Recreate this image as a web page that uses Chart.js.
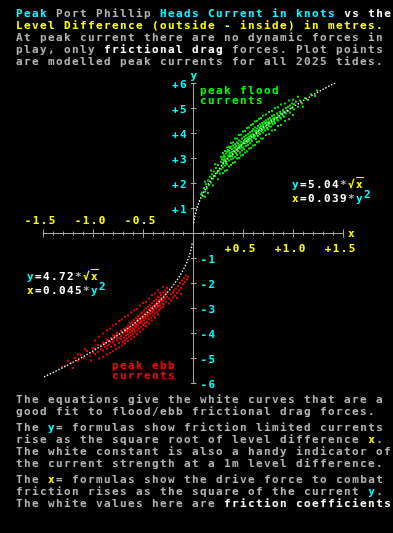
<!DOCTYPE html>
<html>
<head>
<meta charset="utf-8">
<script src="https://cdn.jsdelivr.net/npm/chart.js@4"></script>
<style>
  html, body { margin: 0; padding: 0; background: #000; }
  #wrap { position: relative; width: 393px; height: 533px; overflow: hidden; }
  canvas { position: absolute; left: 0; top: 0; }
  .t {
    position: absolute;
    font: bold 11px "DejaVu Sans Mono", monospace;
    letter-spacing: 1.38px;
    line-height: 12px;
    white-space: pre;
    color: #b4b4b4;
  }
  .p { margin: 0 0 4px 0; }
  .c { color: #00ffff; }
  .y { color: #ffff00; }
  .w { color: #ffffff; }
  .g { color: #00ff00; }
  .r { color: #ff0000; }
  .s { color: #b4b4b4; }
  .ov { text-decoration: overline; }
  .sup { position: relative; top: -4px; }
</style>
</head>
<body>
<div id="wrap">
  <canvas id="chart" width="393" height="533"></canvas>

  <div class="t" style="left:16px;top:8px"><span class="c">Peak</span> Port Phillip <span class="c">Heads Current in knots</span> <span class="w">vs the</span>
<span class="y">Level Difference (outside - inside) in metres.</span>
At peak current there are no dynamic forces in
play, only <span class="w">frictional drag</span> forces. Plot points
are modelled peak currents for all 2025 tides.</div>

  <div class="t g" style="left:200px;top:85px">peak flood</div>
  <div class="t g" style="left:200px;top:95px">currents</div>
  <div class="t r" style="left:112px;top:360px">peak ebb</div>
  <div class="t r" style="left:112px;top:370px">currents</div>

  <div class="t w" style="left:292px;top:179px"><span class="c">y</span>=5.04<span class="s">*</span><span class="y">√<span class="ov">x</span></span></div>
  <div class="t w" style="left:292px;top:193px"><span class="y">x</span>=0.039<span class="s">*</span><span class="c">y<span class="sup">2</span></span></div>
  <div class="t w" style="left:27px;top:271px"><span class="c">y</span>=4.72<span class="s">*</span><span class="y">√<span class="ov">x</span></span></div>
  <div class="t w" style="left:27px;top:285px"><span class="y">x</span>=0.045<span class="s">*</span><span class="c">y<span class="sup">2</span></span></div>

  <div class="t" style="left:16px;top:394px"><div class="p">The equations give the white curves that are a
good fit to flood/ebb frictional drag forces.</div><div class="p">The <span class="c">y</span>= formulas show friction limited currents
rise as the square root of level difference <span class="y">x</span>.
The white constant is also a handy indicator of
the current strength at a 1m level difference.</div><div class="p">The <span class="y">x</span>= formulas show the drive force to combat
friction rises as the square of the current <span class="c">y</span>.
The white values here are <span class="w">friction coefficients</span></div></div>
</div>

<script>
// axis ticks
const xTicks = [-1.5, -1.0, -0.5, 0.5, 1.0, 1.5];
const xMinor = [-1.4, -1.3, -1.2, -1.1, -0.9, -0.8, -0.7, -0.6, -0.4, -0.3, -0.2, -0.1,
                0.1, 0.2, 0.3, 0.4, 0.6, 0.7, 0.8, 0.9, 1.1, 1.2, 1.3, 1.4];
const xTickLabels = ['-1.5', '-1.0', '-0.5', '+0.5', '+1.0', '+1.5'];
const yTicks = [6, 5, 4, 3, 2, 1, -1, -2, -3, -4, -5, -6];
const yTickLabels = ['+6', '+5', '+4', '+3', '+2', '+1', '-1', '-2', '-3', '-4', '-5', '-6'];

// fitted curves (white)
const floodCurveX = [0.006, 0.01, 0.02, 0.04, 0.07, 0.1, 0.15, 0.2, 0.3, 0.4, 0.5, 0.6, 0.7, 0.8, 0.9, 1.0, 1.1, 1.2, 1.3, 1.42];
const floodCurveY = [0.39, 0.50, 0.71, 1.01, 1.33, 1.59, 1.95, 2.25, 2.76, 3.19, 3.56, 3.90, 4.22, 4.51, 4.78, 5.04, 5.29, 5.52, 5.75, 6.0];
const ebbCurveX = [-0.008, -0.02, -0.04, -0.07, -0.1, -0.15, -0.2, -0.3, -0.4, -0.5, -0.6, -0.7, -0.8, -0.9, -1.0, -1.1, -1.2, -1.3, -1.4, -1.5];
const ebbCurveY = [-0.42, -0.67, -0.94, -1.25, -1.49, -1.83, -2.11, -2.59, -2.99, -3.34, -3.66, -3.95, -4.22, -4.48, -4.72, -4.95, -5.17, -5.38, -5.58, -5.78];

// peak flood currents (green)
const floodX = [0.08, 0.09, 0.10, 0.11, 0.12, 0.13, 0.14, 0.15, 0.16, 0.17, 0.18, 0.19, 0.20, 0.21, 0.22, 0.23, 0.24, 0.25, 0.26, 0.27,
  0.28, 0.28, 0.29, 0.29, 0.30, 0.30, 0.30, 0.31, 0.31, 0.32, 0.32, 0.32, 0.33, 0.33, 0.34, 0.34, 0.34, 0.35, 0.35,
  0.36, 0.36, 0.36, 0.37, 0.37, 0.38, 0.38, 0.38, 0.39, 0.39, 0.40, 0.40, 0.40, 0.41, 0.41, 0.42, 0.42, 0.42,
  0.43, 0.43, 0.44, 0.44, 0.44, 0.45, 0.45, 0.45, 0.46, 0.46, 0.47, 0.47, 0.47, 0.48, 0.48, 0.49, 0.49, 0.49,
  0.50, 0.50, 0.51, 0.51, 0.51, 0.52, 0.52, 0.53, 0.53, 0.53, 0.54, 0.54, 0.55, 0.55, 0.55, 0.56, 0.56,
  0.57, 0.57, 0.57, 0.58, 0.58, 0.59, 0.59, 0.59, 0.60, 0.60, 0.61, 0.61, 0.62, 0.62, 0.62, 0.63, 0.63,
  0.64, 0.64, 0.65, 0.65, 0.65, 0.66, 0.66, 0.67, 0.67, 0.67, 0.68, 0.68, 0.69, 0.69, 0.70, 0.70, 0.70,
  0.71, 0.71, 0.72, 0.72, 0.73, 0.73, 0.74, 0.74, 0.75, 0.75, 0.75, 0.76, 0.76, 0.77, 0.77, 0.78, 0.78,
  0.79, 0.79, 0.80, 0.80, 0.81, 0.81, 0.82, 0.82, 0.84, 0.84, 0.85, 0.85, 0.87, 0.87, 0.88, 0.88,
  0.90, 0.90, 0.91, 0.91, 0.93, 0.93, 0.95, 0.95, 0.97, 0.97, 0.99, 0.99,
  1.01, 1.01, 1.03, 1.05, 1.07, 1.09, 1.12, 1.15, 1.18, 1.22, 1.24,
  0.12, 0.12, 0.15, 0.18, 0.20, 0.22, 0.25, 0.28, 0.30, 0.30, 0.32, 0.32, 0.34, 0.34, 0.36, 0.36,
  0.38, 0.38, 0.40, 0.40, 0.42, 0.42, 0.44, 0.44, 0.46, 0.46, 0.48, 0.48, 0.50, 0.50, 0.52, 0.52,
  0.54, 0.54, 0.56, 0.56, 0.58, 0.58, 0.60, 0.60, 0.62, 0.62, 0.64, 0.64, 0.66, 0.66, 0.68, 0.68,
  0.70, 0.70, 0.73, 0.73, 0.76, 0.76, 0.79, 0.79, 0.82, 0.82, 0.85, 0.85, 0.88, 0.88, 0.92, 0.92,
  0.96, 0.96, 1.00, 1.00, 1.05, 1.10,
  0.305, 0.335, 0.365, 0.395, 0.425, 0.455, 0.485, 0.515, 0.545, 0.575, 0.605,
  0.635, 0.665, 0.695, 0.725, 0.755, 0.785, 0.815, 0.845, 0.875, 0.905, 0.935];
const floodY = [1.55, 1.62, 1.48, 1.80, 1.66, 1.95, 1.78, 2.10, 1.92, 2.25, 2.02, 2.35, 2.18, 2.46, 2.28, 2.60, 2.40, 2.72, 2.49, 2.38,
  2.85, 2.55, 2.95, 2.70, 2.62, 3.02, 2.80, 2.88, 3.10, 2.70, 3.05, 2.95, 3.18, 2.80, 2.98, 3.25, 2.75, 3.10, 3.32,
  2.90, 3.05, 3.28, 3.40, 3.12, 2.95, 3.22, 3.45, 3.08, 3.35, 3.50, 3.15, 2.98, 3.28, 3.42, 3.05, 3.55, 3.30,
  3.20, 3.48, 3.62, 3.35, 3.12, 3.40, 3.28, 3.58, 3.70, 3.45, 3.22, 3.52, 3.38, 3.65, 3.48, 3.30, 3.78, 3.55,
  3.60, 3.42, 3.85, 3.68, 3.35, 3.58, 3.75, 3.48, 3.90, 3.66, 3.80, 3.62, 3.95, 3.52, 3.72, 3.85, 3.68,
  4.02, 3.60, 3.78, 3.92, 3.75, 4.08, 3.68, 3.86, 3.98, 4.15, 3.80, 3.92, 4.10, 3.88, 4.22, 3.76, 4.02,
  4.18, 3.95, 4.28, 4.05, 3.88, 4.12, 4.00, 4.35, 4.20, 3.96, 4.08, 4.28, 4.40, 4.15, 4.02, 4.25, 4.32,
  4.45, 4.18, 4.10, 4.38, 4.50, 4.26, 4.20, 4.42, 4.55, 4.32, 4.15, 4.46, 4.28, 4.60, 4.38, 4.25, 4.52,
  4.68, 4.42, 4.35, 4.58, 4.72, 4.48, 4.40, 4.62, 4.78, 4.55, 4.50, 4.70, 4.85, 4.62, 4.58, 4.76,
  4.92, 4.70, 4.65, 4.85, 5.00, 4.78, 4.88, 5.05, 4.82, 5.10, 5.00, 5.18,
  4.95, 5.15, 5.25, 5.05, 5.30, 5.18, 5.40, 5.32, 5.55, 5.48, 5.70,
  2.05, 1.45, 1.60, 2.50, 1.90, 2.75, 2.15, 3.05, 2.40, 3.20, 3.28, 2.48, 3.42, 2.52, 3.45, 2.66,
  3.60, 2.72, 3.62, 2.80, 3.78, 2.84, 3.78, 2.98, 3.92, 3.00, 3.93, 3.10, 4.06, 3.12, 4.08, 3.22,
  4.20, 3.26, 4.22, 3.38, 4.32, 3.40, 4.36, 3.50, 4.46, 3.52, 4.48, 3.64, 4.57, 3.66, 4.60, 3.78,
  4.70, 3.78, 4.74, 3.92, 4.84, 3.96, 4.88, 4.10, 5.00, 4.12, 5.03, 4.28, 5.14, 4.32, 5.18, 4.48,
  5.30, 4.55, 5.33, 4.72, 5.45, 5.05,
  2.92, 2.85, 3.20, 3.25, 3.40, 3.50, 3.42, 3.72, 3.68, 3.88, 3.85,
  4.08, 4.22, 4.12, 4.40, 4.40, 4.50, 4.60, 4.62, 4.80, 4.82, 4.90];

// peak ebb currents (red)
const ebbX = [-0.05, -0.06, -0.07, -0.08, -0.09, -0.10, -0.11, -0.12, -0.13, -0.14, -0.15, -0.16, -0.17, -0.18, -0.19,
  -0.20, -0.20, -0.22, -0.22, -0.24, -0.24,
  -0.26, -0.26, -0.27, -0.27, -0.28, -0.28, -0.29, -0.29, -0.30, -0.30, -0.30, -0.31, -0.31, -0.32, -0.32, -0.32,
  -0.33, -0.33, -0.34, -0.34, -0.34, -0.35, -0.35, -0.36, -0.36, -0.36, -0.37, -0.37, -0.38, -0.38, -0.38,
  -0.39, -0.39, -0.40, -0.40, -0.40, -0.41, -0.41, -0.42, -0.42, -0.42, -0.43, -0.43, -0.44, -0.44, -0.44,
  -0.45, -0.45, -0.46, -0.46, -0.46, -0.47, -0.47, -0.48, -0.48, -0.48, -0.49, -0.49, -0.50, -0.50, -0.50,
  -0.51, -0.51, -0.52, -0.52, -0.52, -0.53, -0.53, -0.54, -0.54, -0.54, -0.55, -0.55, -0.56, -0.56, -0.56,
  -0.57, -0.57, -0.58, -0.58, -0.58, -0.59, -0.59, -0.60, -0.60, -0.60, -0.61, -0.61, -0.62, -0.62,
  -0.63, -0.63, -0.63, -0.64, -0.64, -0.65, -0.65, -0.66, -0.66, -0.66, -0.67, -0.67, -0.68, -0.68,
  -0.69, -0.69, -0.70, -0.70, -0.72, -0.72, -0.72, -0.74, -0.74, -0.76, -0.76, -0.76, -0.78, -0.78,
  -0.80, -0.80, -0.80, -0.82, -0.82, -0.84, -0.84, -0.86, -0.86, -0.88, -0.88, -0.90, -0.90,
  -0.92, -0.92, -0.95, -0.95, -0.98, -0.98,
  -1.00, -1.00, -1.03, -1.06, -1.09, -1.12, -1.15, -1.18, -1.22, -1.25, -1.28, -1.31,
  -0.12, -0.30, -0.33, -0.16,
  -0.35, -0.35, -0.38, -0.38, -0.41, -0.41, -0.44, -0.44, -0.47, -0.47, -0.50, -0.50, -0.53, -0.53, -0.56, -0.56,
  -0.59, -0.59, -0.62, -0.62, -0.65, -0.65, -0.68, -0.68, -0.71, -0.71, -0.74, -0.74, -0.77, -0.77, -0.80, -0.80,
  -0.83, -0.83, -0.86, -0.86, -0.90, -0.90, -0.94, -0.94,
  -0.98, -1.02, -1.08, -1.15, -1.20,
  -0.315, -0.345, -0.375, -0.405, -0.435, -0.465, -0.495, -0.525, -0.555, -0.585,
  -0.615, -0.645, -0.675, -0.705, -0.735, -0.765, -0.795, -0.825, -0.855, -0.885];
const ebbY = [-1.75, -1.85, -1.70, -1.95, -1.80, -2.05, -1.90, -2.20, -2.00, -2.30, -2.12, -2.40, -2.22, -2.50, -2.30,
  -2.58, -2.38, -2.70, -2.45, -2.62, -2.82,
  -2.55, -2.20, -2.75, -2.40, -2.30, -2.62, -2.85, -2.50, -2.38, -2.70, -2.95, -2.60, -2.82, -2.48, -3.00, -2.72,
  -2.90, -2.58, -2.68, -3.08, -2.80, -2.55, -2.95, -3.15, -2.75, -2.88, -2.65, -3.02, -3.22, -2.85, -2.95,
  -2.72, -3.10, -3.30, -2.92, -3.05, -2.80, -3.18, -3.38, -3.00, -3.12, -2.88, -3.25, -3.45, -3.08, -3.20,
  -2.95, -3.35, -3.55, -3.15, -3.28, -3.02, -3.42, -3.60, -3.22, -3.35, -3.10, -3.50, -3.68, -3.30, -3.42,
  -3.18, -3.58, -3.75, -3.38, -3.50, -3.25, -3.62, -3.82, -3.45, -3.58, -3.32, -3.70, -3.90, -3.52, -3.65,
  -3.40, -3.78, -3.95, -3.60, -3.72, -3.48, -3.85, -4.02, -3.68, -3.80, -3.55, -3.92, -4.10, -3.75,
  -3.62, -3.98, -3.85, -4.15, -3.80, -3.70, -4.05, -4.22, -3.88, -3.95, -3.78, -4.10, -4.30, -3.95,
  -3.85, -4.18, -4.35, -4.02, -3.92, -4.25, -4.12, -4.40, -4.05, -4.00, -4.30, -4.18, -4.48, -4.12,
  -4.10, -4.38, -4.25, -4.55, -4.20, -4.32, -4.45, -4.62, -4.28, -4.40, -4.55, -4.70, -4.38,
  -4.50, -4.65, -4.75, -4.48, -4.62, -4.85,
  -4.78, -4.60, -4.90, -4.72, -5.00, -4.88, -5.12, -5.00, -5.20, -5.10, -5.32, -5.36,
  -2.45, -2.15, -2.40, -2.60,
  -2.30, -3.25, -2.42, -3.38, -2.48, -3.50, -2.62, -3.62, -2.76, -3.72, -2.80, -3.85, -2.90, -3.95, -3.04, -4.05,
  -3.10, -4.15, -3.18, -4.25, -3.30, -4.32, -3.35, -4.42, -3.46, -4.50, -3.52, -4.58, -3.64, -4.65, -3.70, -4.72,
  -3.82, -4.80, -3.90, -4.85, -4.02, -4.95, -4.15, -5.02,
  -4.30, -5.10, -4.65, -4.85, -5.40,
  -2.70, -2.90, -3.00, -3.15, -3.05, -3.30, -3.40, -3.55, -3.45, -3.70,
  -3.60, -3.90, -3.85, -4.00, -4.20, -4.05, -4.30, -4.35, -4.50, -4.45];

const pts = (xs, ys) => xs.map((x, i) => ({ x: x, y: ys[i] }));

const FONT = 'bold 11px "DejaVu Sans Mono", monospace';

// draws the cross axes, ticks and tick labels from the chart's own scales
const crossAxes = {
  id: 'crossAxes',
  beforeDatasetsDraw(chart) {
    const ctx = chart.ctx;
    const xs = chart.scales.x, ys = chart.scales.y;
    const x0 = Math.round(xs.getPixelForValue(0)) + 0.5;
    const y0 = Math.round(ys.getPixelForValue(0)) + 0.5;
    ctx.save();
    ctx.strokeStyle = '#a8a8a8';
    ctx.lineWidth = 1;
    ctx.beginPath();
    ctx.moveTo(Math.round(xs.getPixelForValue(-1.5)), y0);
    ctx.lineTo(Math.round(xs.getPixelForValue(1.5)) + 1, y0);
    ctx.moveTo(x0, Math.round(ys.getPixelForValue(6)));
    ctx.lineTo(x0, Math.round(ys.getPixelForValue(-6)) + 1);
    xTicks.forEach(v => {
      const px = Math.round(xs.getPixelForValue(v)) + 0.5;
      ctx.moveTo(px, y0 - 4); ctx.lineTo(px, y0 + 4);
    });
    xMinor.forEach(v => {
      const px = Math.round(xs.getPixelForValue(v)) + 0.5;
      ctx.moveTo(px, y0 - 2); ctx.lineTo(px, y0 + 2);
    });
    yTicks.forEach(v => {
      const py = Math.round(ys.getPixelForValue(v)) + 0.5;
      ctx.moveTo(x0 - 2.5, py); ctx.lineTo(x0 + 3, py);
    });
    ctx.stroke();

    ctx.font = FONT;
    if ('letterSpacing' in ctx) ctx.letterSpacing = '1.38px';
    ctx.textBaseline = 'alphabetic';

    ctx.fillStyle = '#ffff00';
    ctx.textAlign = 'center';
    xTicks.forEach((v, i) => {
      const px = xs.getPixelForValue(v) - 2.3;
      ctx.fillText(xTickLabels[i], px, v < 0 ? 223.5 : 251.5);
    });
    ctx.textAlign = 'left';
    ctx.fillText('x', xs.getPixelForValue(1.5) + 5, y0 + 3.5);

    ctx.fillStyle = '#00ffff';
    yTicks.forEach((v, i) => {
      const py = ys.getPixelForValue(v) + 4.5;
      if (v > 0) {
        ctx.textAlign = 'right';
        ctx.fillText(yTickLabels[i], x0 - 5.5, py);
      } else {
        ctx.textAlign = 'left';
        ctx.fillText(yTickLabels[i], x0 + 7, py);
      }
    });
    ctx.textAlign = 'left';
    ctx.fillText('y', x0 - 3, ys.getPixelForValue(6) - 4.5);
    ctx.restore();
  }
};

new Chart(document.getElementById('chart'), {
  type: 'scatter',
  data: {
    datasets: [
      {
        data: pts(floodCurveX, floodCurveY),
        showLine: true,
        borderColor: '#ffffff',
        borderWidth: 1.4,
        borderDash: [1.4, 1.8],
        pointRadius: 0,
      },
      {
        data: pts(ebbCurveX, ebbCurveY),
        showLine: true,
        borderColor: '#ffffff',
        borderWidth: 1.4,
        borderDash: [1.4, 1.8],
        pointRadius: 0,
      },
      {
        data: pts(floodX, floodY),
        backgroundColor: '#00ff00',
        borderColor: '#00ff00',
        borderWidth: 0,
        pointStyle: 'rect',
        pointRadius: 1.25,
      },
      {
        data: pts(ebbX, ebbY),
        backgroundColor: '#ff0000',
        borderColor: '#ff0000',
        borderWidth: 0,
        pointStyle: 'rect',
        pointRadius: 1.25,
      },
    ],
  },
  options: {
    responsive: false,
    animation: false,
    devicePixelRatio: 1,
    layout: { padding: { left: 43, right: 50, top: 83, bottom: 150 } },
    plugins: { legend: { display: false }, tooltip: { enabled: false } },
    scales: {
      x: { type: 'linear', min: -1.5, max: 1.5, display: false },
      y: { type: 'linear', min: -6, max: 6, display: false },
    },
  },
  plugins: [crossAxes],
});
</script>
</body>
</html>
